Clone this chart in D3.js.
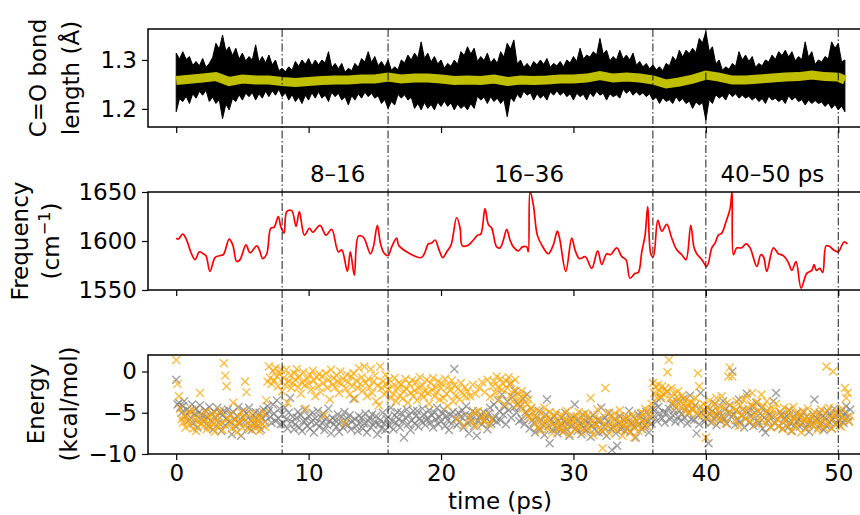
<!DOCTYPE html>
<html><head><meta charset="utf-8">
<script src="https://cdn.jsdelivr.net/npm/d3@7/dist/d3.min.js"></script>
<style>body{margin:0;background:#fff}svg{display:block}text{font-family:"DejaVu Sans",sans-serif;fill:#000}</style>
</head><body><svg id="c" width="860" height="515"></svg>
<script>
// ---------- data ----------
const bondStep = 0.25; // ps between envelope samples
const bondUpper = [
1.314,1.302,1.317,1.301,1.307,1.289,1.297,1.288,1.303,1.285,1.293,1.305,1.334,1.322,1.351,1.318,1.327,1.309,1.324,1.302,
1.314,1.298,1.307,1.300,1.331,1.296,1.307,1.294,1.310,1.290,1.300,1.278,1.283,1.276,1.286,1.279,1.297,1.287,1.300,1.291,
1.303,1.288,1.300,1.290,1.300,1.294,1.317,1.284,1.293,1.282,1.293,1.275,1.283,1.278,1.293,1.285,1.303,1.296,1.317,1.295,
1.307,1.288,1.297,1.286,1.300,1.279,1.286,1.280,1.300,1.294,1.310,1.300,1.314,1.304,1.337,1.303,1.314,1.296,1.307,1.292,
1.300,1.283,1.293,1.287,1.300,1.291,1.317,1.309,1.327,1.312,1.324,1.297,1.307,1.299,1.314,1.294,1.303,1.293,1.317,1.306,
1.334,1.322,1.341,1.292,1.300,1.285,1.293,1.284,1.297,1.290,1.300,1.291,1.303,1.285,1.293,1.288,1.297,1.286,1.300,1.294,
1.307,1.297,1.324,1.302,1.310,1.306,1.317,1.310,1.344,1.312,1.320,1.298,1.307,1.300,1.320,1.302,1.310,1.300,1.314,1.289,
1.297,1.286,1.293,1.282,1.290,1.280,1.286,1.278,1.293,1.288,1.307,1.298,1.320,1.306,1.320,1.313,1.324,1.315,1.344,1.335,
1.358,1.318,1.327,1.292,1.300,1.279,1.286,1.281,1.293,1.287,1.317,1.300,1.310,1.297,1.307,1.285,1.293,1.288,1.300,1.296,
1.310,1.301,1.317,1.309,1.320,1.306,1.317,1.298,1.307,1.301,1.337,1.305,1.317,1.291,1.300,1.296,1.307,1.302,1.337,1.324,
1.334,1.296,1.300];
const bondLower = [
1.194,1.221,1.215,1.226,1.211,1.231,1.222,1.236,1.228,1.238,1.215,1.224,1.211,1.219,1.180,1.210,1.198,1.221,1.215,1.229,
1.218,1.232,1.225,1.233,1.218,1.231,1.222,1.236,1.225,1.237,1.228,1.240,1.225,1.233,1.218,1.229,1.215,1.224,1.211,1.228,
1.218,1.233,1.222,1.235,1.222,1.228,1.215,1.234,1.225,1.232,1.218,1.225,1.208,1.227,1.218,1.231,1.222,1.234,1.225,1.232,
1.222,1.227,1.211,1.219,1.201,1.215,1.208,1.230,1.222,1.229,1.218,1.224,1.201,1.211,1.198,1.213,1.201,1.209,1.198,1.214,
1.205,1.216,1.205,1.212,1.198,1.210,1.201,1.207,1.198,1.211,1.201,1.226,1.218,1.224,1.211,1.225,1.215,1.222,1.211,1.219,
1.184,1.224,1.215,1.230,1.222,1.236,1.228,1.233,1.218,1.231,1.222,1.228,1.218,1.235,1.228,1.237,1.228,1.234,1.225,1.231,
1.218,1.232,1.225,1.230,1.218,1.233,1.225,1.236,1.228,1.232,1.218,1.231,1.225,1.229,1.222,1.240,1.232,1.238,1.228,1.235,
1.228,1.233,1.225,1.231,1.218,1.224,1.211,1.223,1.215,1.219,1.211,1.225,1.215,1.221,1.211,1.216,1.201,1.214,1.208,1.213,
1.177,1.219,1.211,1.229,1.222,1.227,1.218,1.233,1.225,1.231,1.222,1.228,1.222,1.226,1.218,1.224,1.215,1.221,1.211,1.226,
1.218,1.222,1.215,1.220,1.211,1.227,1.218,1.224,1.215,1.219,1.208,1.218,1.211,1.217,1.211,1.214,1.205,1.212,1.201,1.209,
1.198,1.206,1.194];
const bondAvgTime = [0,1,2,3,4,5,6,7,8,9,10,11,12,13,14,15,16,17,18,19,20,21,22,23,24,25,
26,27,28,29,30,31,32,33,34,35,36,37,38,39,40,41,42,43,44,45,46,47,48,49,50,50.5];
const bondAvg = [1.258,1.2605,1.263,1.266,1.256,1.261,1.259,1.259,1.256,1.254,
1.256,1.258,1.259,1.259,1.261,1.261,1.265,1.261,1.263,1.263,
1.261,1.258,1.259,1.258,1.261,1.256,1.259,1.258,1.259,1.261,
1.261,1.263,1.268,1.263,1.265,1.263,1.259,1.251,1.255,1.261,
1.269,1.265,1.259,1.259,1.261,1.263,1.265,1.266,1.269,1.266,
1.265,1.259];

const freqTime = [0,0.16,0.49,0.79,1.04,1.42,1.75,2.05,2.25,2.55,2.93,3.26,3.56,4.0,4.27,4.57,4.82,5.27,5.57,6.08,
6.28,6.53,6.84,7.14,7.39,7.71,7.89,8.14,8.35,8.72,9.05,9.3,9.68,10.06,10.31,10.86,11.31,11.74,12.24,12.5,
12.93,13.15,13.45,13.76,14.13,14.67,14.89,15.19,15.42,15.68,16.0,16.27,16.65,16.83,18.49,18.74,19.04,19.3,19.55,19.85,
20.13,20.43,20.76,21.18,21.44,21.61,22.07,22.44,22.77,23.0,23.32,23.57,23.83,24.2,24.45,24.71,24.96,25.21,25.46,25.84,
26.14,26.47,26.59,26.72,26.97,27.27,27.6,28.1,28.48,28.78,28.95,29.42,29.87,30.12,30.45,30.9,31.38,31.83,32.14,32.51,
32.8,33.27,33.65,33.97,34.27,34.65,34.9,35.16,35.41,35.61,35.86,36.03,36.37,36.67,37.05,37.42,37.8,38.18,38.5,38.86,
39.11,39.31,39.69,40.07,40.45,40.7,40.94,41.2,41.53,41.83,41.98,42.08,42.33,42.7,43.04,43.34,43.85,44.15,44.35,44.6,
45.1,45.48,45.85,46.23,46.49,46.81,47.19,47.62,48.0,48.17,48.35,48.6,48.83,49.08,49.4,49.63,50.01,50.25,50.44,50.69];
const freqValue = [1603,1602,1607,1601,1591,1581,1589,1587,1585,1569,1583,1585,1586,1602,1596,1579,1581,1596,1588,1595,
1591,1582,1587,1613,1614,1625,1615,1608,1630,1631,1615,1630,1606,1613,1609,1616,1606,1612,1589,1591,
1569,1589,1565,1605,1604,1587,1594,1616,1598,1588,1585,1594,1603,1595,1583,1587,1597,1598,1601,1591,
1583,1589,1596,1624,1613,1595,1596,1601,1606,1607,1633,1617,1613,1594,1593,1601,1612,1601,1594,1590,
1594,1594,1589,1651,1637,1606,1596,1587,1596,1610,1603,1569,1603,1591,1582,1584,1572,1590,1576,1587,
1586,1593,1584,1581,1562,1567,1568,1589,1606,1635,1586,1584,1621,1610,1617,1603,1591,1586,1581,1616,
1593,1587,1581,1574,1593,1598,1606,1608,1620,1633,1651,1586,1593,1593,1597,1593,1574,1586,1584,1569,
1593,1587,1585,1578,1570,1579,1552,1567,1570,1576,1570,1572,1568,1595,1594,1591,1589,1595,1599,1597];

const energyStep = 0.1; // ps between samples
const energyGray = [
-1.0,-4.0,-3.8,-4.4,-5.0,-4.2,-3.6,-5.4,-4.6,-6.0,
-4.8,-5.6,-4.0,-6.3,-5.2,-4.5,-6.8,-5.0,-4.1,-5.8,
-5.3,-6.0,-4.7,-5.5,-6.6,-4.3,-5.9,-5.1,-7.0,-4.9,
-5.6,-4.4,-6.2,-5.0,-7.2,-5.3,-4.8,-6.5,-5.7,-4.6,
-6.1,-5.2,-7.6,-4.9,-5.8,-6.7,-5.4,-4.3,-6.3,-7.8,
-5.5,-4.7,-6.0,-5.1,-6.8,-4.4,-5.9,-7.1,-5.3,-6.4,
-4.9,-5.7,-6.5,-5.0,-7.0,-5.6,-4.6,-6.1,-5.3,-4.2,
-4.8,-5.5,-6.2,-4.0,-5.1,-6.0,-3.5,-5.7,-4.5,-6.4,
-5.2,-6.3,-4.4,-5.8,-6.9,-5.0,-3.2,-6.1,-5.5,-7.0,
-6.4,-5.6,-4.9,-6.8,-5.3,-7.2,-6.0,-4.6,-5.9,-6.6,
-5.4,-6.9,-6.1,-5.0,-7.4,-5.7,-6.3,-4.8,-6.7,-5.5,
-6.2,-5.1,-7.1,-5.8,-6.5,-4.5,-6.0,-7.5,-5.6,-6.4,
-5.9,-6.7,-5.2,-7.3,-6.1,-5.5,-6.8,-4.9,-6.4,-5.7,
-6.5,-5.3,-7.0,-6.0,-3.3,-5.8,-6.6,-7.2,-5.4,-6.2,
-5.6,-6.9,-6.3,-5.1,-7.4,-6.0,-5.7,-6.8,-5.2,-6.5,
-6.1,-5.4,-7.6,-6.4,-5.9,-6.9,-5.0,-6.3,-7.1,-5.8,
-5.5,-6.6,-4.4,-6.0,-7.0,-5.3,-6.2,-4.9,-5.8,-6.8,
-5.0,-6.1,-8.0,-5.6,-4.6,-6.4,-5.3,-7.1,-5.9,-4.8,
-6.3,-5.4,-4.8,-6.7,-5.7,-6.0,-4.5,-5.2,-6.5,-5.9,
-5.6,-4.7,-6.2,-5.3,-6.8,-5.0,-5.8,-4.4,-6.4,-5.5,
-6.0,-5.1,-4.6,-6.6,-5.4,-5.9,-7.1,-5.2,-6.3,-4.9,
0.3,-5.7,-6.5,-5.0,-6.1,-5.5,-4.7,-6.8,-5.3,-4.2,
-6.2,-7.5,-5.4,-5.9,-4.8,-6.6,-5.1,-7.8,-6.0,-5.6,
-5.3,-6.4,-4.9,-6.0,-5.6,-7.0,-5.1,-4.4,-6.3,-5.8,
-4.0,-5.5,-6.1,-3.5,-4.8,-5.9,-2.8,-5.2,-4.3,-6.4,
-3.6,-4.7,-1.5,-5.6,-3.1,-4.4,-2.4,-5.0,-3.9,-6.0,
-4.2,-5.8,-3.3,-6.4,-4.9,-2.8,-5.4,-6.9,-4.5,-5.9,
-6.2,-7.4,-5.5,-6.8,-4.8,-7.0,-5.9,-6.5,-7.7,-5.2,
-3.4,-6.6,-8.7,-5.8,-7.1,-6.3,-5.4,-6.9,-7.5,-6.0,
-6.7,-5.6,-7.3,-6.1,-5.0,-7.0,-6.4,-7.8,-5.8,-6.6,
-5.5,-4.0,-6.8,-7.2,-5.9,-6.3,-7.6,-5.2,-6.9,-6.0,
-7.1,-6.2,-5.7,-7.9,-6.5,-5.3,-7.0,-6.4,-5.9,-7.4,
-6.0,-4.4,-7.3,-6.7,-5.6,-7.8,-6.1,-5.0,-6.9,-9.5,
-6.8,-5.8,-7.5,-9.0,-6.3,-5.4,-7.0,-6.6,-5.9,-7.2,
-5.7,-6.9,-4.8,-7.3,-6.2,-5.5,-6.7,-8.0,-6.0,-5.2,
-6.4,-5.1,-7.0,-5.8,-6.6,-4.9,-6.1,-7.4,-5.5,-6.3,
-4.6,-5.4,-3.8,-6.0,-4.3,-5.1,-3.2,-5.7,-4.9,-6.2,
-5.0,-2.4,-4.5,-5.8,-3.9,-5.3,-4.7,-6.1,-3.6,-5.5,
-4.8,-6.0,-5.2,-3.3,-5.6,-4.4,-6.3,-5.0,-2.9,-5.8,
-4.5,-5.9,-4.1,-7.5,-5.3,-6.4,-2.6,-5.0,-4.7,-6.1,
-5.6,-4.3,-8.7,-5.1,-6.2,-4.8,-5.7,-3.9,-6.5,-5.3,
-4.9,-6.0,-5.4,-3.6,-5.8,-4.5,-6.3,-5.0,-4.1,-5.5,
0.0,-5.2,-6.5,-4.7,-5.9,-3.4,-6.1,-5.3,-4.6,-6.8,
-5.7,-2.7,-4.9,-6.2,-5.4,-4.2,-6.6,-5.0,-3.8,-5.9,
-6.3,-5.1,-4.4,-6.9,-5.6,-7.4,-4.8,-6.0,-5.3,-6.7,
-5.5,-3.6,-6.2,-2.6,-5.8,-6.6,-4.9,-5.2,-6.9,-5.7,
-6.0,-5.4,-6.8,-4.7,-6.3,-7.2,-5.6,-6.5,-5.1,-6.1,
-5.8,-6.7,-5.3,-6.2,-4.9,-6.9,-5.5,-6.4,-7.3,-5.9,
-6.4,-5.2,-3.4,-6.0,-5.7,-6.8,-5.0,-6.3,-5.5,-7.1,
-5.6,-6.6,-4.8,-6.1,-5.3,-6.9,-5.8,-4.5,-6.4,-5.1,
-5.9,-6.5,-4.9,-5.6,-6.2,-5.0,-4.2,-5.5,-6.0,-4.6];
const energyOrange = [
1.4,-1.5,-3.0,-4.5,-5.8,-6.2,-5.2,-6.8,-5.5,-6.0,
-6.5,-5.0,-4.6,-6.9,-5.8,-7.2,-6.1,-5.4,-2.6,-6.3,
-5.9,-6.6,-4.9,-7.0,-6.2,-5.6,-6.8,-5.1,-6.4,-7.3,
-6.0,-5.3,-6.7,-4.8,-6.2,-7.1,1.0,-0.5,-1.8,-5.7,
-6.4,-5.2,-6.9,-3.8,-5.9,-6.5,-7.4,-5.5,-6.1,-4.9,
-6.8,-5.6,-1.2,-2.5,-6.3,-7.0,-5.1,-6.6,-5.8,-6.2,
-6.9,-5.4,-6.1,-7.2,-5.7,-6.4,-5.0,-6.7,-3.5,-1.2,
0.6,-0.8,-1.5,0.1,-1.1,0.4,-0.6,-1.8,-0.3,0.2,
-2.4,-0.8,-1.6,0.2,-3.8,-1.2,-0.5,-2.0,-1.4,-0.2,
-1.0,0.3,-1.9,-0.6,-2.7,-1.3,-0.1,-1.7,-4.5,-0.9,
-1.5,-0.4,-2.2,0.1,-1.1,-3.0,-0.7,-1.8,-0.3,-2.5,
-0.6,-1.4,-5.3,-0.2,-2.0,-1.0,-3.4,0.2,-1.6,-0.8,
-1.9,-0.5,-1.2,-2.6,0.0,-1.5,-0.9,-6.2,-2.1,-0.4,
-1.3,-2.8,-0.6,-1.8,-0.2,-3.3,-1.1,-2.0,0.4,-1.5,
-0.7,-2.3,0.6,-1.4,-3.0,-0.9,-1.9,0.3,-2.6,-1.2,
-0.5,-3.6,-1.7,-4.1,0.6,-2.0,-1.2,-2.8,-0.4,-1.6,
-2.2,-1.0,-3.2,-1.8,-2.7,-0.8,-3.6,-2.0,-1.4,-2.9,
-1.6,-3.3,-2.4,-0.9,-2.1,-3.8,-1.5,-2.6,-1.1,-3.0,
-2.3,-1.3,-3.5,-2.0,-0.7,-2.8,-1.7,-3.1,-2.4,-1.0,
-2.6,-3.9,-1.4,-2.2,-0.8,-3.0,-1.9,-2.5,-1.2,-3.4,
-2.0,-1.5,-3.2,-0.9,-2.7,-4.2,-1.8,-2.3,-1.1,-3.6,
-1.7,-2.9,-5.8,-2.1,-3.4,-1.4,-2.6,-6.5,-1.9,-3.1,
-2.4,-5.5,-3.0,-6.2,-1.6,-5.0,-2.7,-6.6,-4.8,-2.0,
-5.6,-1.3,-6.0,-2.5,-5.2,-1.0,-6.4,-3.1,-5.8,-1.8,
-1.2,-2.6,-0.6,-1.9,-3.4,-0.9,-2.2,-1.5,-4.0,-1.1,
-2.0,-0.7,-2.9,-1.4,-3.6,-2.3,-1.0,-4.1,-2.6,-3.3,
-3.8,-2.4,-4.5,-3.0,-5.2,-4.0,-3.4,-5.6,-4.4,-5.0,
-5.5,-6.3,-4.7,-6.8,-5.9,-7.2,-5.1,-6.5,-4.4,-6.0,
-5.7,-6.9,-4.9,-6.2,-7.5,-5.3,-6.6,-5.0,-6.1,-7.0,
-6.4,-5.2,-7.3,-5.8,-6.7,-4.8,-6.0,-7.6,-5.5,-6.3,
-5.9,-7.1,-5.4,-6.5,-4.9,-6.8,-5.6,-7.4,-6.2,-5.1,
-6.6,-5.3,-7.0,-3.2,-6.1,-7.7,-5.5,-6.4,-4.6,-6.9,
-5.8,-7.2,-9.3,-6.3,-2.0,-5.0,-6.7,-7.5,-5.4,-6.0,
-6.5,-5.1,-7.1,-5.9,-6.8,-4.7,-6.2,-7.8,-5.6,-6.4,
-7.0,-5.5,-6.3,-7.4,-5.2,-6.7,-8.0,-5.9,-6.5,-7.2,
-5.6,-6.9,-5.0,-6.2,-4.5,-5.8,-6.6,-4.8,-5.4,-3.9,
-1.4,-2.6,-1.9,-3.2,-1.6,-2.3,-3.0,-1.8,-2.8,-2.1,
-2.5,-0.1,1.4,-3.3,-2.0,-3.8,-2.7,-4.2,-3.1,-2.4,
-3.6,-4.4,-2.9,-3.9,-4.8,-3.3,-4.1,-5.0,-3.7,-4.5,
-3.8,-4.6,-3.2,-5.1,-0.2,-1.8,-4.3,-5.4,-3.9,-4.7,
-8.0,-4.4,-5.6,-3.5,-4.9,-6.1,-4.0,-5.3,-3.2,-4.7,
-5.8,-4.2,-3.0,-5.5,-4.6,-6.3,-3.8,-0.6,0.5,-5.0,
-0.6,-4.4,-5.9,-3.6,-4.9,-6.6,-4.1,-5.4,-3.4,-4.8,
-5.7,-3.1,-4.5,-6.0,-4.0,-2.6,-5.2,-4.3,-6.4,-3.7,
-4.8,-5.6,-2.8,-4.2,-6.2,-5.0,-3.6,-5.9,-4.5,-6.8,
-5.2,-4.6,-6.3,-3.9,-5.8,-6.7,-4.9,-5.5,-7.0,-4.4,
-5.9,-6.5,-4.7,-5.3,-7.2,-6.0,-4.3,-5.6,-6.8,-5.1,
-6.2,-5.4,-7.4,-4.8,-6.0,-5.7,-6.9,-4.5,-5.8,-6.4,
-5.5,-6.6,-4.9,-6.1,-7.1,-5.3,-6.3,-4.6,-5.9,-6.8,
-5.0,0.6,-6.2,-4.4,-5.6,-6.9,0.0,-5.3,-6.5,-4.8,
-6.0,-5.2,-6.7,-4.5,-5.7,-2.0,-3.2,-2.6,-6.1,-5.4];

const markerTimes = [8, 16, 36, 40, 50];
const segmentLabels = ["8–16", "16–36", "40–50 ps"];
const segmentLabelTimes = [10.1, 24.0, 41.1];
const xTicks = [0, 10, 20, 30, 40, 50];
const bondTicks = [1.2, 1.3];
const freqTicks = [1550, 1600, 1650];
const energyTicks = [-10, -5, 0];

// ---------- layout ----------
const svg = d3.select("#c");
svg.append("rect").attr("width",860).attr("height",515).attr("fill","#fff");
const L = 148, R = 878;
const panels = [{top:29,bot:127},{top:192,bot:290},{top:355,bot:454}];
const FS = 23;

const x = d3.scaleLinear().domain([-2.13, 53.0]).range([L, R]);
const yB = d3.scaleLinear().domain([1.163, 1.3633]).range([panels[0].bot, panels[0].top]);
const yF = d3.scaleLinear().domain([1550, 1650]).range([panels[1].bot, panels[1].top]);
const yE = d3.scaleLinear().domain([-10, 2]).range([panels[2].bot, panels[2].top]);

const defs = svg.append("defs");
panels.forEach((p,i)=>{
  defs.append("clipPath").attr("id","clip"+i).append("rect")
    .attr("x",L).attr("y",p.top).attr("width",R-L).attr("height",p.bot-p.top);
});

// top panel: bond length
const g0 = svg.append("g").attr("clip-path","url(#clip0)");
const bondIdx = d3.range(bondUpper.length);
g0.append("path").datum(bondIdx)
  .attr("d", d3.area().x(i=>x(i*bondStep)).y0(i=>yB(bondLower[i])).y1(i=>yB(bondUpper[i])))
  .attr("fill","#000").attr("stroke","#000").attr("stroke-width",1);
g0.append("path").datum(d3.range(bondAvg.length))
  .attr("d", d3.line().x(i=>x(bondAvgTime[i])).y(i=>yB(bondAvg[i])))
  .attr("fill","none").attr("stroke","#bfbf00").attr("stroke-width",9);

// middle panel: frequency
const g1 = svg.append("g").attr("clip-path","url(#clip1)");
g1.append("path").datum(d3.range(freqTime.length))
  .attr("d", d3.line().curve(d3.curveCatmullRom.alpha(0.5)).x(i=>x(freqTime[i])).y(i=>yF(freqValue[i])))
  .attr("fill","none").attr("stroke","#ff0000").attr("stroke-width",1.7).attr("stroke-linejoin","round");

// bottom panel: energy scatter
const g2 = svg.append("g").attr("clip-path","url(#clip2)");
const s = 4;
const cross = `M${-s},${-s}L${s},${s}M${-s},${s}L${s},${-s}`;
function scatter(vals, color){
  g2.append("g").selectAll("path").data(vals).join("path")
    .attr("transform",(v,i)=>`translate(${x(i*energyStep)},${yE(v)})`)
    .attr("d",cross).attr("stroke",color).attr("stroke-width",1.4)
    .attr("fill","none").attr("opacity",0.75);
}
scatter(energyGray, "#808080");
scatter(energyOrange, "#ffa500");

// vertical dash-dot markers
svg.append("g").selectAll("line").data(markerTimes).join("line")
  .attr("x1",d=>x(d)).attr("x2",d=>x(d)).attr("y1",panels[0].top).attr("y2",panels[2].bot)
  .attr("stroke","#000").attr("stroke-width",0.9).attr("stroke-dasharray","8,2.5,1.5,2.5");

// frames & axes
const yScales = [yB, yF, yE];
const yTickSets = [bondTicks, freqTicks, energyTicks];
const yFmt = [d=>d.toFixed(1), d=>String(d), d=>(d<0?"\u2212"+Math.abs(d):String(d))];
panels.forEach((p,i)=>{
  svg.append("rect").attr("x",L).attr("y",p.top).attr("width",R-L).attr("height",p.bot-p.top)
    .attr("fill","none").attr("stroke","#000").attr("stroke-width",1.5);
  const ya = svg.append("g").attr("transform",`translate(${L},0)`)
    .call(d3.axisLeft(yScales[i]).tickValues(yTickSets[i]).tickSize(6).tickPadding(5).tickFormat(yFmt[i]));
  const xa = svg.append("g").attr("transform",`translate(0,${p.bot})`)
    .call(d3.axisBottom(x).tickValues(xTicks).tickSize(6).tickPadding(5).tickFormat(i===2?d3.format("d"):()=>""));
  [ya,xa].forEach(a=>{
    a.select(".domain").remove();
    a.selectAll(".tick line").attr("stroke","#000").attr("stroke-width",1.2);
    a.selectAll(".tick text").attr("font-size",FS).attr("font-family","DejaVu Sans").attr("fill","#000");
  });
});

// segment labels
svg.append("g").selectAll("text").data(segmentLabels).join("text")
  .attr("x",(d,i)=>x(segmentLabelTimes[i])).attr("y",182).attr("font-size",FS).text(d=>d);

// axis labels
function ylab(lines, cy){
  lines.forEach(l=>{
    const t = svg.append("text").attr("transform",`translate(${l.x},${cy}) rotate(-90)`)
      .attr("text-anchor","middle").attr("font-size",FS);
    l.parts.forEach(pp=>{
      const ts = t.append("tspan").text(pp.t);
      if(pp.sup){ ts.attr("font-size",FS*0.7).attr("dy",-9); }
      if(pp.after){ ts.attr("dy",9); }
    });
  });
}
ylab([{x:46,parts:[{t:"C=O bond"}]},{x:79,parts:[{t:"length (Å)"}]}],78);
ylab([{x:28,parts:[{t:"Frequency"}]},{x:59,parts:[{t:"(cm"},{t:"\u22121",sup:true},{t:")",after:true}]}],241);
ylab([{x:44,parts:[{t:"Energy"}]},{x:77,parts:[{t:"(kcal/mol)"}]}],404);
svg.append("text").attr("x",500).attr("y",509).attr("text-anchor","middle").attr("font-size",FS).text("time (ps)");
</script></body></html>
